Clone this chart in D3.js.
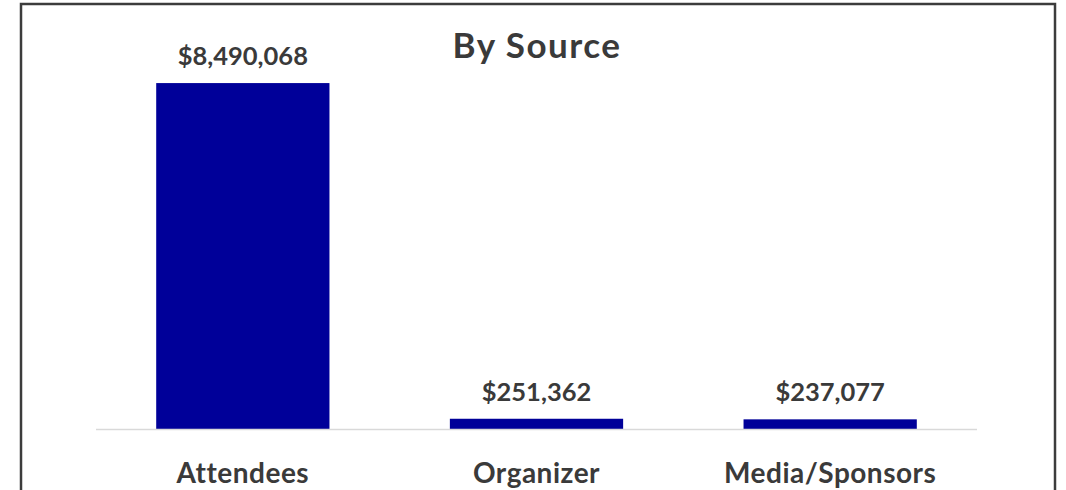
<!DOCTYPE html>
<html>
<head>
<meta charset="utf-8">
<script src="https://cdn.jsdelivr.net/npm/d3@7"></script>
<style>
  body { margin: 0; background: #fff; }
  text { font-family: "Lato", "Open Sans", sans-serif; font-weight: 700; fill: #3a3a3a; }
</style>
</head>
<body>
<script>
var categories = ['Attendees', 'Organizer', 'Media/Sponsors'];
var values = [8490068, 251362, 237077];
var yMax = 9000000;

var svg = d3.select('body').append('svg')
    .attr('width', 1066)
    .attr('height', 490);

// outer frame
svg.append('rect')
    .attr('x', 21)
    .attr('y', 4)
    .attr('width', 1034)
    .attr('height', 500)
    .attr('fill', 'white')
    .attr('stroke', '#3c3c3c')
    .attr('stroke-width', 2.5);

var x = d3.scaleBand()
    .domain(categories)
    .range([96, 977])
    .paddingInner(0.41)
    .paddingOuter(0.205);

var y = d3.scaleLinear()
    .domain([0, yMax])
    .range([429, 62.3]);

var data = categories.map(function(c, i) { return {cat: c, val: values[i]}; });

svg.selectAll('rect.bar')
    .data(data)
    .enter()
    .append('rect')
    .attr('class', 'bar')
    .attr('x', function(d) { return x(d.cat); })
    .attr('y', function(d) { return y(d.val); })
    .attr('width', x.bandwidth())
    .attr('height', function(d) { return y(0) - y(d.val); })
    .attr('fill', '#000099');

// baseline
svg.append('line')
    .attr('x1', 96).attr('x2', 977)
    .attr('y1', y(0) + 0.5).attr('y2', y(0) + 0.5)
    .attr('stroke', '#d9d9d9')
    .attr('stroke-width', 1.5);

var fmt = d3.format(',');

svg.selectAll('text.val')
    .data(data)
    .enter()
    .append('text')
    .attr('class', 'val')
    .attr('x', function(d) { return x(d.cat) + x.bandwidth() / 2; })
    .attr('y', function(d) { return y(d.val) - 18; })
    .attr('text-anchor', 'middle')
    .style('font-size', '25.5px')
    .text(function(d) { return '$' + fmt(d.val); });

svg.selectAll('text.cat')
    .data(categories)
    .enter()
    .append('text')
    .attr('class', 'cat')
    .attr('x', function(d) { return x(d) + x.bandwidth() / 2; })
    .attr('y', 483)
    .attr('text-anchor', 'middle')
    .style('font-size', '28px')
    .style('letter-spacing', '0.5px')
    .text(function(d) { return d; });

svg.append('text')
    .attr('x', 537)
    .attr('y', 58)
    .attr('text-anchor', 'middle')
    .style('font-size', '35px')
    .style('letter-spacing', '1.5px')
    .text('By Source');
</script>
</body>
</html>
